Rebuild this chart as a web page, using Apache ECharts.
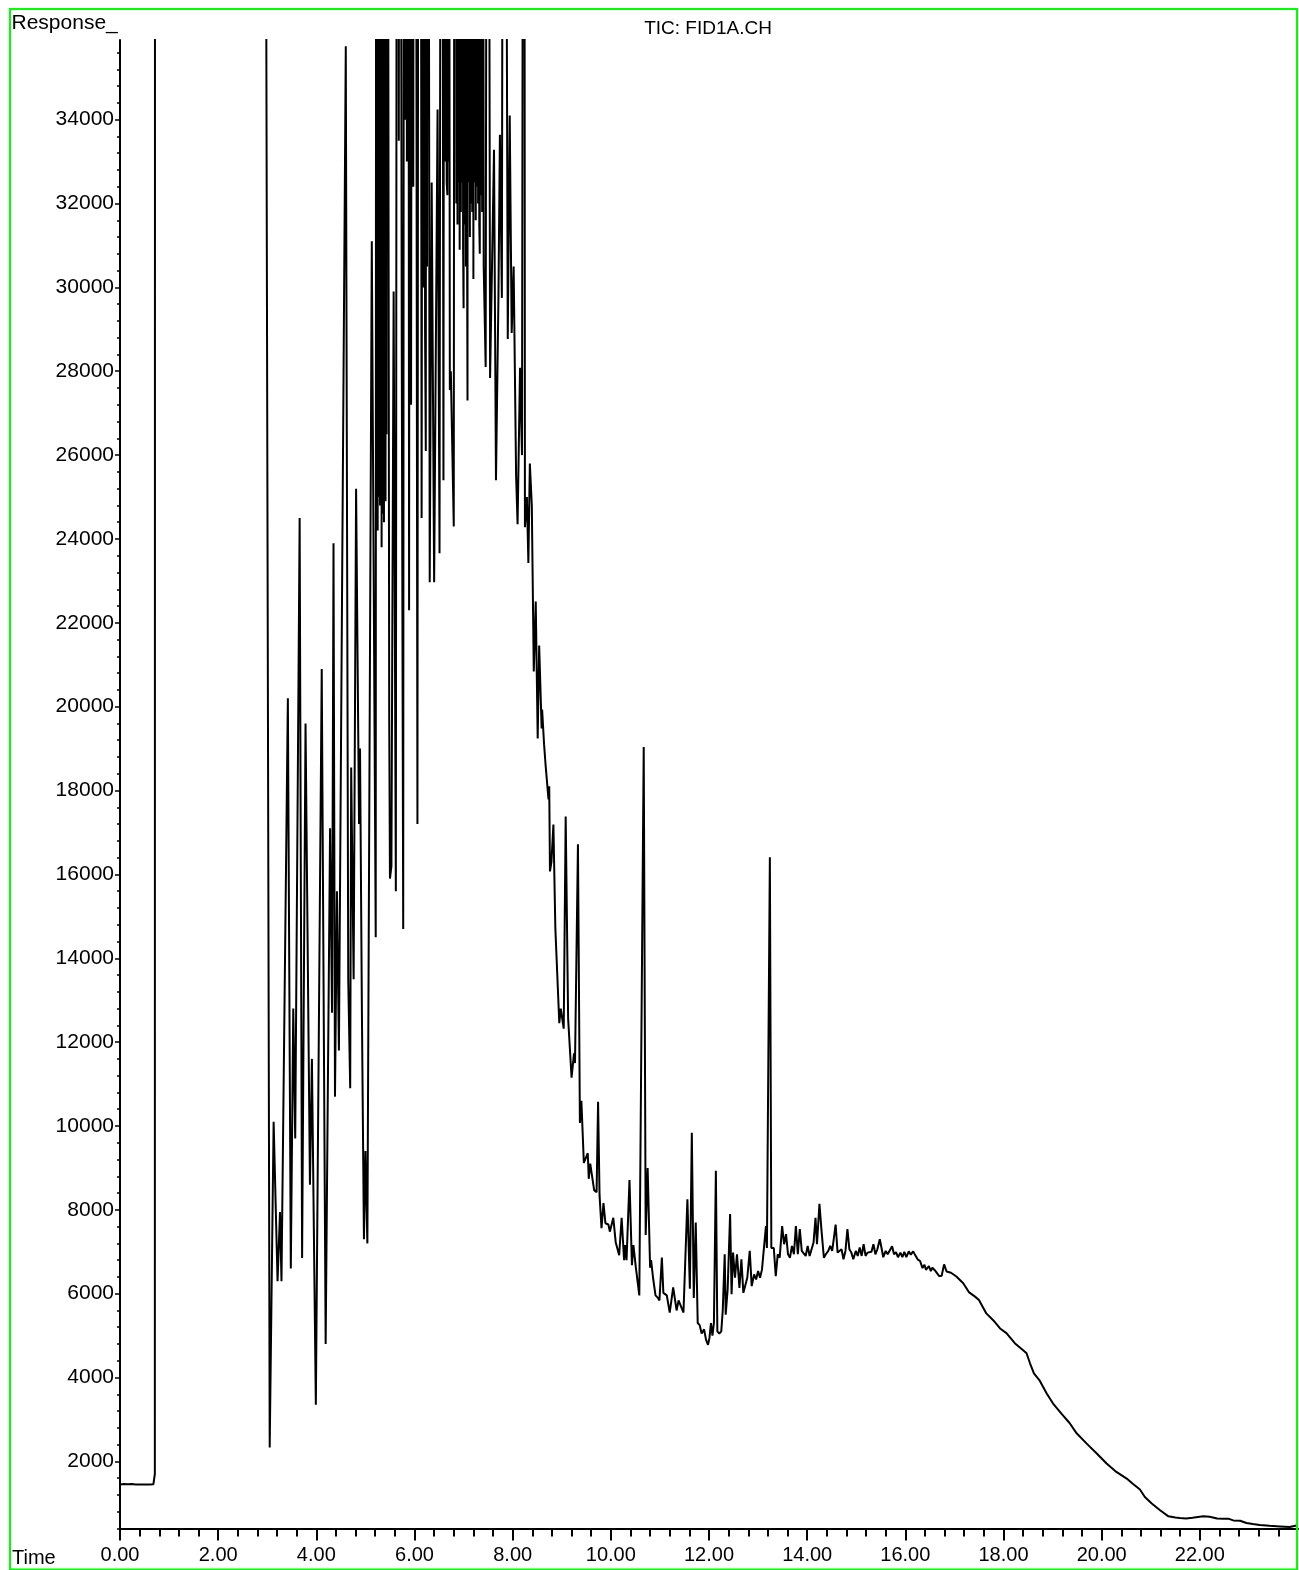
<!DOCTYPE html>
<html>
<head>
<meta charset="utf-8">
<title>TIC: FID1A.CH</title>
<script src="https://cdn.jsdelivr.net/npm/echarts@6/dist/echarts.min.js"></script>
<style>
  html, body { margin: 0; padding: 0; background: #ffffff; }
  #chart { width: 1299px; height: 1570px; }
</style>
</head>
<body>
<div id="chart"></div>
<script>
// FID total ion chromatogram: [retention time (min), detector response]

// flat detector baseline before the solvent front
const startBaseline = [
  [0.00, 1450], [0.04, 1430], [0.08, 1460], [0.12, 1420], [0.16, 1455], [0.20, 1430],
  [0.24, 1460], [0.28, 1425], [0.32, 1450], [0.40, 1450], [0.50, 1450], [0.60, 1450],
  [0.68, 1455], [0.71, 1700]
];

// solvent peak, far above the plotted range
const solventPeak = [
  [0.73, 300000], [1.20, 900000], [2.20, 700000], [2.80, 200000], [2.98, 36500]
];

// first resolved peaks after the solvent
const earlyPeaks = [
  [3.05, 2330], [3.13, 10100], [3.21, 6300], [3.26, 7950], [3.29, 6300], [3.42, 20200],
  [3.48, 6600], [3.53, 12800], [3.57, 9700], [3.66, 24500], [3.71, 6850], [3.78, 19600],
  [3.87, 8600], [3.91, 11600], [3.99, 3350], [4.11, 20900], [4.19, 4800], [4.28, 17100],
  [4.32, 12700], [4.35, 23900], [4.38, 10700], [4.42, 15600], [4.46, 11800], [4.60, 35750],
  [4.65, 13500], [4.69, 10900], [4.71, 18550], [4.76, 13500], [4.81, 25200], [4.87, 17200],
  [4.89, 19000], [4.93, 12500], [4.97, 7300], [5.00, 9400], [5.04, 7200], [5.13, 31100]
];

// unresolved, overloaded middle of the run
const crowdedRegion = [
  [5.21, 14500], [5.222, 60000], [5.232, 25500], [5.242, 70000], [5.25, 24200], [5.258, 80000],
  [5.266, 25000], [5.274, 90000], [5.282, 26000], [5.29, 80000], [5.298, 24800], [5.306, 90000],
  [5.314, 25500], [5.322, 70000], [5.33, 23800], [5.338, 80000], [5.346, 24600], [5.354, 70000],
  [5.362, 25800], [5.37, 80000], [5.378, 24400], [5.386, 80000], [5.394, 25200], [5.402, 70000],
  [5.41, 24900], [5.42, 60000], [5.43, 26500], [5.44, 60000],
  [5.485, 19700], [5.50, 15900], [5.53, 16200], [5.575, 29900], [5.62, 15600], [5.655, 70000],
  [5.68, 33500], [5.70, 60000], [5.74, 28700], [5.77, 14700], [5.80, 80000], [5.815, 34000],
  [5.83, 70000], [5.845, 33000], [5.86, 70000], [5.89, 22300], [5.91, 60000], [5.93, 27200],
  [5.95, 50000], [5.975, 32400], [6.00, 70000], [6.06, 17200], [6.10, 80000], [6.145, 24500],
  [6.18, 60000], [6.19, 30000], [6.20, 70000], [6.215, 29000], [6.23, 26100], [6.245, 60000],
  [6.255, 30500], [6.27, 60000], [6.31, 22970], [6.35, 32500], [6.40, 22970], [6.47, 34240],
  [6.51, 23660], [6.55, 60000], [6.59, 25400], [6.62, 70000], [6.632, 33000], [6.644, 60000],
  [6.656, 32500], [6.67, 32200], [6.68, 60000], [6.69, 33000], [6.70, 50000], [6.72, 27550],
  [6.74, 28000], [6.80, 24300], [6.84, 90000], [6.852, 32000], [6.864, 80000], [6.876, 31500],
  [6.888, 70000], [6.90, 32500], [6.912, 80000], [6.92, 30900], [6.932, 80000], [6.944, 31800],
  [6.956, 70000], [6.968, 32500], [6.98, 60000], [6.99, 31000], [7.00, 29500], [7.012, 70000],
  [7.024, 31500], [7.036, 80000], [7.048, 30500], [7.06, 60000], [7.07, 31500], [7.08, 27300],
  [7.092, 80000], [7.104, 32500], [7.116, 60000], [7.128, 31200], [7.14, 70000], [7.152, 32000],
  [7.164, 80000], [7.176, 31800], [7.188, 70000], [7.20, 30200], [7.212, 60000], [7.224, 32500],
  [7.236, 70000], [7.248, 31600], [7.26, 50000], [7.272, 32400], [7.284, 70000], [7.296, 32000],
  [7.308, 70000], [7.32, 31500], [7.33, 30800], [7.342, 60000], [7.354, 32200], [7.366, 70000],
  [7.378, 31800], [7.39, 50000], [7.41, 30500], [7.45, 28100], [7.49, 60000], [7.54, 27840],
  [7.62, 33280], [7.66, 25400], [7.71, 29750], [7.74, 33640], [7.78, 29750], [7.82, 60000],
  [7.90, 28770], [7.94, 34100], [7.98, 28910], [8.02, 30500], [8.07, 25500], [8.10, 24350],
  [8.15, 28080], [8.19, 26000], [8.23, 60000], [8.25, 24280], [8.29, 25000]
];

// falling edge of the unresolved envelope
const descendingSlope = [
  [8.32, 23430], [8.35, 25800], [8.39, 24800], [8.43, 20840], [8.47, 22510], [8.51, 19240],
  [8.54, 21460], [8.59, 19480], [8.60, 19930], [8.64, 19100], [8.67, 18620], [8.73, 17790],
  [8.745, 18100], [8.76, 16070], [8.79, 16300], [8.83, 17190], [8.87, 14700], [8.95, 12450],
  [8.98, 12800], [9.04, 12320], [9.08, 17380], [9.13, 12560], [9.20, 11150], [9.25, 11730],
  [9.27, 11500], [9.33, 16720], [9.37, 10070], [9.40, 10600], [9.45, 9120], [9.53, 9350],
  [9.55, 8740], [9.58, 9100], [9.66, 8470], [9.71, 8420], [9.74, 10580], [9.77, 8350],
  [9.81, 7560], [9.85, 8160], [9.89, 7680], [9.95, 7650], [9.98, 7480], [10.05, 7810],
  [10.10, 7220], [10.17, 6920], [10.22, 7810], [10.27, 6800], [10.29, 7160], [10.32, 6800],
  [10.38, 8710], [10.43, 6680], [10.46, 7160], [10.51, 6620], [10.58, 5960]
];

// isolated peaks around 10.7, 11.6, 12.1 and 13.2 min
const midPeaks = [
  [10.67, 19040], [10.71, 7400], [10.75, 9000], [10.80, 6620], [10.82, 6800], [10.86, 6380],
  [10.91, 5960], [10.96, 5900], [10.99, 5840], [11.04, 6860], [11.07, 6020], [11.14, 5960],
  [11.20, 5550], [11.27, 6150], [11.34, 5600], [11.38, 5840], [11.48, 5550], [11.56, 8250],
  [11.61, 6120], [11.65, 9840], [11.69, 5900], [11.73, 7700], [11.77, 5300], [11.81, 5250],
  [11.85, 5050], [11.90, 5150], [11.94, 4900], [11.98, 4780], [12.01, 4950], [12.04, 5300],
  [12.07, 5000], [12.10, 5300], [12.14, 8930], [12.17, 5100], [12.21, 5050], [12.25, 5100],
  [12.28, 5600], [12.32, 6940], [12.34, 5500], [12.38, 6100], [12.43, 7900], [12.46, 5990],
  [12.49, 6980], [12.53, 6380], [12.57, 6940], [12.62, 6140], [12.66, 6820], [12.70, 6020],
  [12.74, 5980], [12.78, 6380], [12.83, 7020], [12.87, 6180], [12.92, 6460], [12.96, 6340],
  [13.00, 6540], [13.04, 6380], [13.08, 6580], [13.12, 6540], [13.16, 7610], [13.18, 7090],
  [13.24, 16410], [13.27, 7090]
];

// broad column hump with small noise
const humpRegion = [
  [13.32, 7090], [13.36, 6420], [13.40, 6940], [13.44, 6860], [13.49, 7610], [13.53, 7180],
  [13.57, 7420], [13.61, 6940], [13.65, 6860], [13.69, 7140], [13.73, 6940], [13.77, 7610],
  [13.81, 6940], [13.85, 7540], [13.89, 7020], [13.93, 7060], [13.97, 6900], [14.01, 7140],
  [14.05, 6900], [14.09, 6860], [14.13, 7220], [14.17, 7810], [14.20, 7180], [14.25, 8145],
  [14.29, 7540], [14.34, 6860], [14.38, 6940], [14.43, 7020], [14.47, 7140], [14.51, 7020],
  [14.58, 7650], [14.62, 6980], [14.66, 6940], [14.70, 7060], [14.74, 6820], [14.78, 7020],
  [14.82, 7540], [14.86, 7060], [14.90, 6980], [14.94, 6820], [14.99, 7020], [15.03, 6900],
  [15.07, 7100], [15.11, 6900], [15.15, 7180], [15.19, 6900], [15.23, 6980], [15.27, 6960],
  [15.31, 7000], [15.35, 7180], [15.39, 6940], [15.43, 7060], [15.48, 7300], [15.52, 7060],
  [15.55, 6870], [15.60, 7020], [15.64, 6940], [15.68, 6980], [15.73, 7130], [15.77, 6940],
  [15.81, 6990], [15.85, 6870], [15.90, 6980], [15.94, 6870], [15.98, 7000], [16.02, 6870],
  [16.07, 7010], [16.11, 6930], [16.16, 7010], [16.20, 6920], [16.25, 6820], [16.30, 6780],
  [16.35, 6610], [16.39, 6690], [16.42, 6570], [16.44, 6540], [16.48, 6660], [16.52, 6540],
  [16.55, 6620], [16.60, 6560], [16.69, 6420], [16.74, 6430], [16.79, 6700], [16.84, 6530],
  [16.88, 6560], [16.93, 6500]
];

// bake-out decline back to baseline
const bakeOut = [
  [17.04, 6410], [17.18, 6250], [17.30, 6030], [17.42, 5930], [17.50, 5850], [17.65, 5530],
  [17.82, 5330], [17.93, 5170], [18.06, 5060], [18.23, 4820], [18.37, 4680], [18.47, 4580],
  [18.54, 4340], [18.62, 4100], [18.73, 3940], [18.88, 3620], [19.01, 3380], [19.18, 3140],
  [19.35, 2910], [19.49, 2670], [19.69, 2430], [19.90, 2190], [20.10, 1950], [20.30, 1750],
  [20.51, 1590], [20.64, 1460], [20.78, 1330], [20.88, 1150], [21.02, 995], [21.19, 835],
  [21.36, 690], [21.50, 660], [21.59, 650], [21.72, 640], [21.85, 655], [22.07, 690],
  [22.20, 680], [22.35, 640], [22.48, 630], [22.58, 635], [22.68, 593], [22.82, 585],
  [22.95, 531], [23.08, 505], [23.22, 484], [23.42, 465], [23.63, 450], [23.83, 434],
  [23.97, 470]
];

// axis tick values
const timeTicks = [0, 2, 4, 6, 8, 10, 12, 14, 16, 18, 20, 22];
const responseTicks = [2000, 4000, 6000, 8000, 10000, 12000, 14000, 16000, 18000,
  20000, 22000, 24000, 26000, 28000, 30000, 32000, 34000];

const timeMinorTicks = [];
for (let k = 1; k <= 59; k++) {
  if (k % 5 !== 0) timeMinorTicks.push(Math.round(k * 0.4 * 100) / 100);
}
const responseMinorTicks = [];
for (let v = 400; v <= 35600; v += 400) {
  if (v % 2000 !== 0) responseMinorTicks.push(v);
}

const trace = [].concat(startBaseline, solventPeak, earlyPeaks, crowdedRegion,
  descendingSlope, midPeaks, humpRegion, bakeOut);

const FONT = '"Liberation Sans", Arial, Helvetica, sans-serif';
const TIME_MIN = 0, TIME_MAX = 24;
const RESP_MIN = 400, RESP_MAX = 35900;

const chart = echarts.init(document.getElementById('chart'), null, { renderer: 'canvas' });

chart.setOption({
  animation: false,
  backgroundColor: '#ffffff',
  grid: { left: 120, top: 40, right: 1, bottom: 41.5, containLabel: false },
  xAxis: [
    {
      type: 'value', min: TIME_MIN, max: TIME_MAX, position: 'bottom',
      axisLine: { onZero: false, lineStyle: { color: '#000', width: 2 } },
      axisTick: { customValues: timeTicks, length: 12, lineStyle: { color: '#000', width: 2 } },
      axisLabel: {
        customValues: timeTicks, margin: 17, color: '#000', fontSize: 20, fontFamily: FONT,
        formatter: v => v.toFixed(2)
      },
      splitLine: { show: false }
    },
    {
      type: 'value', min: TIME_MIN, max: TIME_MAX, position: 'bottom',
      axisLine: { show: false, onZero: false },
      axisTick: { customValues: timeMinorTicks, length: 8, lineStyle: { color: '#000', width: 2 } },
      axisLabel: { show: false },
      splitLine: { show: false }
    }
  ],
  yAxis: [
    {
      type: 'value', min: RESP_MIN, max: RESP_MAX, position: 'left',
      axisLine: { onZero: false, lineStyle: { color: '#000', width: 2 } },
      axisTick: { customValues: responseTicks, length: 5, lineStyle: { color: '#000', width: 1.5 } },
      axisLabel: {
        customValues: responseTicks, margin: 6, color: '#000', fontSize: 21, fontFamily: FONT,
        formatter: v => String(Math.round(v))
      },
      splitLine: { show: false }
    },
    {
      type: 'value', min: RESP_MIN, max: RESP_MAX, position: 'left',
      axisLine: { show: false, onZero: false },
      axisTick: { customValues: responseMinorTicks, length: 3, lineStyle: { color: '#000', width: 1.5 } },
      axisLabel: { show: false },
      splitLine: { show: false }
    }
  ],
  graphic: [
    {
      type: 'rect', silent: true, z: 100,
      shape: { x: 10, y: 9, width: 1287, height: 1560.5 },
      style: { fill: 'none', stroke: '#00ff00', lineWidth: 2 }
    },
    {
      type: 'text', x: 11.5, y: 23.5,
      style: { text: 'Response_', fill: '#000', font: '21px ' + FONT, textAlign: 'left', textVerticalAlign: 'middle' }
    },
    {
      type: 'text', x: 708, y: 28.5,
      style: { text: 'TIC: FID1A.CH', fill: '#000', font: '19px ' + FONT, textAlign: 'center', textVerticalAlign: 'middle' }
    },
    {
      type: 'text', x: 12, y: 1558,
      style: { text: 'Time', fill: '#000', font: '20px ' + FONT, textAlign: 'left', textVerticalAlign: 'middle' }
    }
  ],
  series: [
    {
      name: 'TIC: FID1A.CH',
      type: 'line',
      xAxisIndex: 0,
      yAxisIndex: 0,
      data: trace,
      showSymbol: false,
      symbol: 'none',
      clip: true,
      lineStyle: { color: '#000', width: 2, join: 'bevel' }
    }
  ]
});
</script>
</body>
</html>
